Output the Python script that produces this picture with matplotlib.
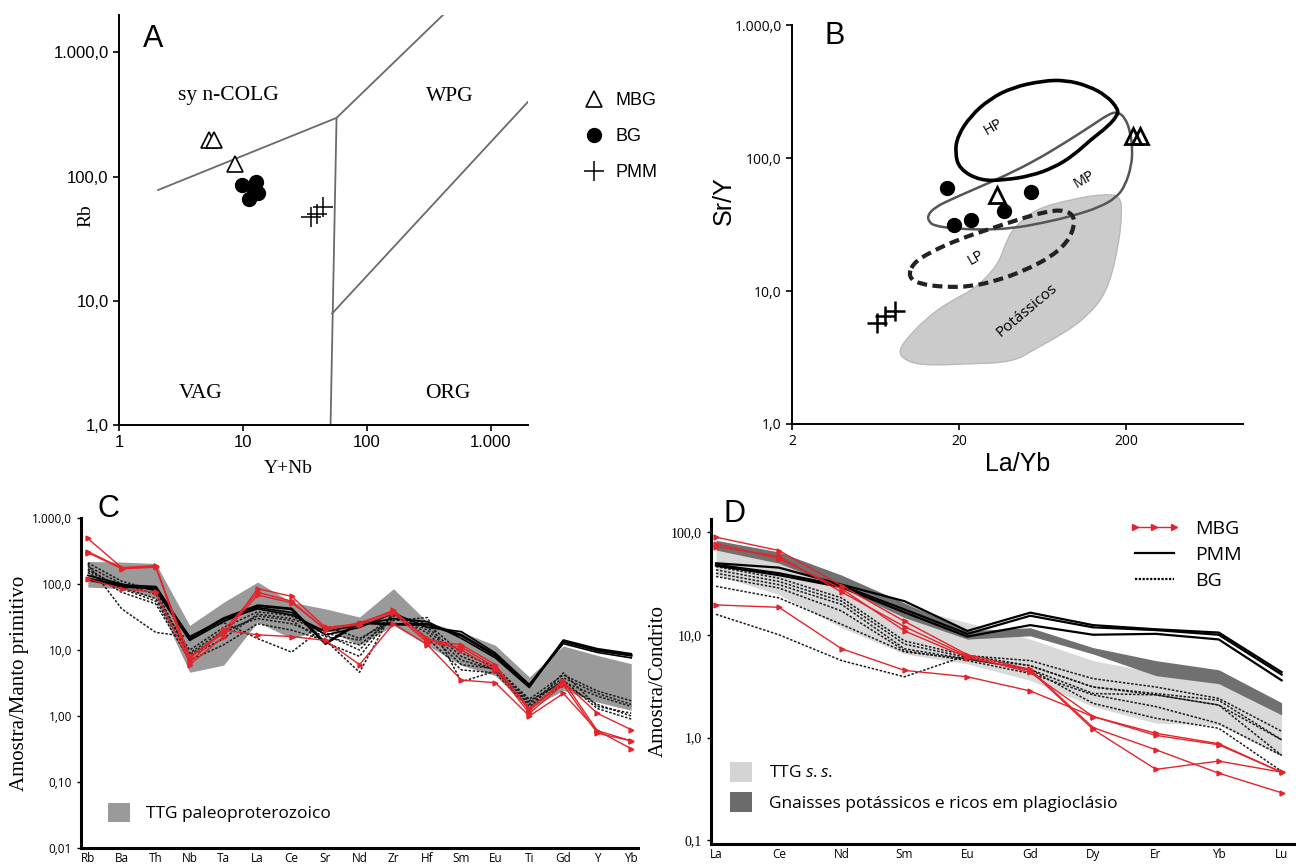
import numpy as np
import matplotlib
matplotlib.use('Agg')
import matplotlib.pyplot as plt
from matplotlib.lines import Line2D
from matplotlib.patches import Patch, PathPatch
from matplotlib.path import Path

plt.rcParams['mathtext.fontset'] = 'custom'
plt.rcParams['mathtext.it'] = 'Open Sans:italic'
plt.rcParams['mathtext.rm'] = 'Open Sans'

SANS = 'Liberation Sans'
SERIF = 'Liberation Serif'
CAL = 'Open Sans'
RED = '#e4232b'

# ---------------- A : Rb x (Y+Nb)
a_mbg_x = [5.3, 5.9, 8.6]
a_mbg_y = [196, 196, 127]
a_bg_x = [9.8, 12.7, 13.2, 11.3, 12.4]
a_bg_y = [86, 90, 74, 66, 79]
a_pmm_x = [35.4, 39.3, 44]
a_pmm_y = [47.4, 50, 57]

# limites dos campos (Pearce et al.)
a_colg_x = [2.07, 57, 412]
a_colg_y = [78, 297, 2000]
a_vert_x = [57, 51]
a_vert_y = [297, 1]
a_org_x = [52.5, 2000]
a_org_y = [7.9, 400]
a_fields = ['sy n-COLG', 'WPG', 'VAG', 'ORG']
a_field_x = [7.7, 466, 4.6, 447]
a_field_y = [450, 445, 1.8, 1.8]

# ---------------- B : Sr/Y x La/Yb
b_mbg_x = [33.9, 221, 243]
b_mbg_y = [52.7, 145.6, 147]
b_bg_x = [17.0, 18.6, 23.5, 37, 54]
b_bg_y = [60, 31.4, 34.2, 39.7, 56]
b_pmm_x = [6.46, 7.16, 8.3]
b_pmm_y = [5.75, 6.5, 7.1]

hp_x = [26.8, 20.1, 18.9, 19.6, 23.5, 30.5, 41.7, 63.2, 86.5, 118, 153, 179, 177, 153, 124, 96, 74, 54, 37.6]
hp_y = [67.6, 82.6, 110, 147, 208, 278, 340, 381, 386, 350, 294, 234, 208, 170, 139, 104, 85, 73.6, 68.4]
mp_x = [13.3, 12.9, 14.3, 18.1, 26.1, 37.6, 57, 86.5, 124, 157, 177, 197, 212, 218, 215, 197, 175, 138, 96, 63.2, 41.7, 27.5, 18.1, 14.3]
mp_y = [32.8, 36.8, 42.6, 49.2, 60.1, 73.6, 95.5, 131, 175, 214, 223, 202, 156, 117, 87.5, 62, 50.6, 42.6, 36.8, 32.5, 29.6, 28.9, 29.6, 31]
lp_x = [9.95, 11.6, 16.3, 23.5, 33.9, 48.8, 70.2, 88.7, 98.4, 96, 82, 63.2, 46.2, 30.5, 20.1, 13.3, 10.5]
lp_y = [12.7, 11.3, 10.7, 10.8, 12.0, 14.2, 17.9, 23.2, 31.0, 37.9, 40.9, 39.0, 34.8, 29.3, 24.6, 19.5, 16.0]
pot_x = [8.73, 9.68, 12.6, 17.2, 24.8, 33.9, 37.6, 41.7, 57, 96, 146, 184, 189, 179, 153, 118, 86.5, 57, 41.7, 22.3, 11.9, 9.2]
pot_y = [3.56, 4.36, 6.16, 8.22, 10.35, 15.5, 21.9, 29.3, 41.4, 49.2, 53.6, 52.1, 39.1, 20.7, 9.77, 6.53, 4.89, 3.66, 2.91, 2.83, 2.75, 3.08]

# ---------------- C : multielementos (manto primitivo)
c_elems = ['Rb', 'Ba', 'Th', 'Nb', 'Ta', 'La', 'Ce', 'Sr', 'Nd', 'Zr', 'Hf', 'Sm', 'Eu', 'Ti', 'Gd', 'Y', 'Yb']
c_ttg_hi = [220, 215, 205, 23.6, 53, 107, 53, 42, 31.6, 85, 26.6, 18.7, 11.8, 3.9, 11.5, 8.3, 6.2]
c_ttg_lo = [90, 85, 60, 4.6, 5.9, 26.6, 14.9, 21, 11.8, 23.6, 11.8, 5.86, 4.1, 1.29, 2.45, 1.63, 1.22]
c_pmm = [
    [120, 95, 90, 15, 30, 47, 42, 12.5, 26, 24.5, 24.5, 16.7, 8.3, 2.9, 13.5, 9.9, 8.3],
    [135, 100, 80, 14, 27, 44, 37, 17, 22, 36, 22, 19, 9.0, 3.0, 12.5, 9.2, 7.6],
    [115, 90, 85, 16, 29, 42, 34, 19, 24, 30, 27, 15, 7.6, 2.7, 14.2, 10.5, 8.8],
]
c_bg = [
    [210, 110, 80, 8, 15, 35, 30, 18, 14, 33, 25, 9, 5.5, 1.8, 4.2, 2.4, 1.7],
    [185, 100, 70, 9, 20, 30, 25, 16, 12, 30, 22, 8, 5.0, 1.6, 3.8, 2.2, 1.5],
    [160, 90, 60, 10, 22, 38, 33, 17, 10, 36, 20, 7, 5.0, 1.5, 3.5, 1.3, 0.9],
    [200, 42, 18.5, 15.8, 26, 14.9, 9.3, 23, 15, 28, 31, 3.3, 4.8, 1.4, 3.0, 1.5, 1.0],
    [150, 75, 50, 7, 12, 25, 20, 14, 4.6, 40, 15, 5, 4.5, 1.3, 4.5, 1.4, 1.1],
    [170, 85, 55, 8.5, 18, 33, 28, 13, 8, 35, 18, 6, 5.2, 1.7, 3.3, 2.0, 1.4],
]
c_mbg = [
    [490, 177, 190, 6, 16, 85, 65, 22, 25, 40, 14, 12, 6, 1.2, 3.3, 1.1, 0.62],
    [310, 175, 185, 7.5, 20, 75, 55, 20, 26, 38, 15, 10, 5, 1.1, 3.0, 0.55, 0.42],
    [300, 170, 180, 8, 18, 68, 52, 21, 24, 36, 13, 11, 5.5, 1.3, 3.4, 0.6, 0.42],
    [120, 85, 75, 6.5, 20, 17, 16, 14, 6, 25, 12, 3.5, 3.2, 1.0, 2.2, 0.6, 0.32],
]

# ---------------- D : ETR (condrito)
d_elems = ['La', 'Ce', 'Nd', 'Sm', 'Eu', 'Gd', 'Dy', 'Er', 'Yb', 'Lu']
d_ttg_hi = [66.6, 49.6, 30.7, 19, 13.1, 9.07, 5.6, 4.3, 3.34, 1.72]
d_ttg_lo = [38.3, 24.6, 11.7, 6.5, 5.2, 3.6, 2.0, 1.38, 1.32, 0.66]
d_gn_hi = [83, 64, 38, 20.4, 10.9, 11.7, 7.5, 5.6, 4.56, 2.18]
d_gn_lo = [66.6, 49.6, 28.5, 14.7, 9.07, 9.76, 6.5, 4.0, 3.34, 1.66]
d_pmm = [
    [49.6, 45, 30.7, 21.2, 10.9, 16.4, 12.4, 11.3, 10.5, 4.33],
    [48, 39.7, 30, 17.6, 10.2, 15.3, 11.8, 11.1, 10.0, 4.1],
    [47, 38, 29, 16.5, 9.6, 12.4, 10.0, 10.2, 9.0, 3.6],
]
d_bg = [
    [46, 35.5, 22.8, 8.7, 6.26, 5.6, 3.74, 3.1, 2.4, 1.15],
    [42.8, 33, 21.2, 8.1, 6.0, 5.0, 3.1, 2.68, 2.3, 0.95],
    [39.7, 30.7, 19.7, 7.3, 5.8, 4.6, 2.68, 2.6, 2.07, 0.67],
    [36.9, 28.5, 17.0, 7.0, 5.6, 4.2, 2.6, 2.0, 1.37, 0.67],
    [29.6, 22.8, 12.6, 6.8, 5.8, 4.6, 2.15, 1.54, 1.23, 0.47],
    [15.8, 10, 5.6, 3.9, 6.3, 5.0, 3.1, 2.6, 2.07, 0.95],
]
d_mbg = [
    [89, 66, 30, 13.5, 6.4, 4.6, 1.25, 0.76, 0.45, 0.29],
    [77, 55, 28, 10.9, 6.0, 4.5, 1.2, 0.49, 0.59, 0.46],
    [72, 58, 26, 12.0, 6.2, 4.3, 1.6, 1.1, 0.87, 0.46],
    [19.5, 18.5, 7.3, 4.5, 3.9, 2.84, 1.6, 1.05, 0.85, 0.46],
]


def closed_curve(xs, ys):
    # contorno suave (bezier quadratica) em espaco log
    lx, ly = np.log10(xs), np.log10(ys)
    mx = (lx + np.roll(lx, -1)) / 2
    my = (ly + np.roll(ly, -1)) / 2
    verts = [(mx[-1], my[-1])]
    codes = [Path.MOVETO]
    for i in range(len(lx)):
        verts += [(lx[i], ly[i]), (mx[i], my[i])]
        codes += [Path.CURVE3, Path.CURVE3]
    return Path(10 ** np.array(verts), codes)


def log_axis(ax, which, vals, labels, font, size):
    if which == 'x':
        ax.set_xticks(vals)
        ax.set_xticklabels(labels, fontfamily=font, fontsize=size)
        ax.xaxis.set_minor_locator(plt.NullLocator())
    else:
        ax.set_yticks(vals)
        ax.set_yticklabels(labels, fontfamily=font, fontsize=size)
        ax.yaxis.set_minor_locator(plt.NullLocator())


fig = plt.figure(figsize=(12.96, 8.67), dpi=100)

# ======================= A
axA = fig.add_axes([0.0918, 0.5098, 0.3156, 0.4729])
axA.set_xscale('log')
axA.set_yscale('log')
axA.set_xlim(1, 2000)
axA.set_ylim(1, 2000)
for s in ['top', 'right']:
    axA.spines[s].set_visible(False)
for s in ['left', 'bottom']:
    axA.spines[s].set_linewidth(1.4)
log_axis(axA, 'x', [1, 10, 100, 1000], ['1', '10', '100', '1.000'], SANS, 12)
log_axis(axA, 'y', [1, 10, 100, 1000], ['1,0', '10,0', '100,0', '1.000,0'], SANS, 12)
axA.tick_params(direction='out', length=4, width=1.2)

gray_line = '#6a6a6a'
axA.plot(a_colg_x, a_colg_y, color=gray_line, lw=1.3)
axA.plot(a_vert_x, a_vert_y, color=gray_line, lw=1.3)
axA.plot(a_org_x, a_org_y, color=gray_line, lw=1.3)
for t, x, y in zip(a_fields, a_field_x, a_field_y):
    axA.text(x, y, t, fontfamily=SERIF, fontsize=15.5, ha='center', va='center')

axA.plot(a_mbg_x, a_mbg_y, ls='none', marker='^', ms=12, mfc='white', mec='black', mew=1.2, label='MBG')
axA.plot(a_bg_x, a_bg_y, ls='none', marker='o', ms=10, color='black', label='BG')
axA.plot(a_pmm_x, a_pmm_y, ls='none', marker='+', ms=14, mew=1.1, color='black', label='PMM')
axA.legend(loc='upper left', bbox_to_anchor=(1.1, 0.83), frameon=False,
           prop={'family': SANS, 'size': 13}, labelspacing=1.05, handletextpad=0.2,
           borderaxespad=0)
axA.set_xlabel('Y+Nb', fontfamily=SERIF, fontsize=14)
axA.xaxis.set_label_coords(0.415, -0.085)
axA.set_ylabel('Rb', fontfamily=SERIF, fontsize=14)
axA.yaxis.set_label_coords(-0.06, 0.51)
axA.text(1.9, 1290, 'A', fontfamily=SANS, fontsize=22, ha='center', va='center')

# ======================= B
axB = fig.add_axes([0.6111, 0.511, 0.348, 0.460])
axB.set_xscale('log')
axB.set_yscale('log')
axB.set_xlim(2, 1000)
axB.set_ylim(1, 1000)
for s in ['top', 'right']:
    axB.spines[s].set_visible(False)
for s in ['left', 'bottom']:
    axB.spines[s].set_linewidth(1.4)
log_axis(axB, 'x', [2, 20, 200], ['2', '20', '200'], CAL, 10)
log_axis(axB, 'y', [1, 10, 100, 1000], ['1,0', '10,0', '100,0', '1.000,0'], CAL, 10)
axB.tick_params(direction='out', length=4, width=1.2)

axB.add_patch(PathPatch(closed_curve(pot_x, pot_y), facecolor='#cbcbcb', edgecolor='#b9b9b9', lw=1.0))
axB.add_patch(PathPatch(closed_curve(mp_x, mp_y), facecolor='none', edgecolor='#555555', lw=1.8))
axB.add_patch(PathPatch(closed_curve(hp_x, hp_y), facecolor='none', edgecolor='black', lw=2.6))
axB.add_patch(PathPatch(closed_curve(lp_x, lp_y), facecolor='none', edgecolor='#222222', lw=3.0,
                        linestyle=(0, (2.4, 1.3))))
axB.text(32.1, 170, 'HP', fontfamily=CAL, fontsize=10.5, rotation=30, ha='center', va='center')
axB.text(112, 69.5, 'MP', fontfamily=CAL, fontsize=10.5, rotation=30, ha='center', va='center')
axB.text(25.4, 17.9, 'LP', fontfamily=CAL, fontsize=10.5, rotation=30, ha='center', va='center')
axB.text(51, 7.1, 'Potássicos', fontfamily=CAL, fontsize=11, rotation=40, ha='center', va='center')

axB.plot(b_bg_x, b_bg_y, ls='none', marker='o', ms=10, color='black')
axB.plot(b_mbg_x, b_mbg_y, ls='none', marker='^', ms=12, mfc='none', mec='black', mew=2.0)
axB.plot(b_pmm_x, b_pmm_y, ls='none', marker='+', ms=14, mew=1.8, color='black')
axB.set_xlabel('La/Yb', fontfamily=SANS, fontsize=18, labelpad=2)
axB.set_ylabel('Sr/Y', fontfamily=SANS, fontsize=18)
axB.yaxis.set_label_coords(-0.125, 0.56)
axB.text(3.6, 830, 'B', fontfamily=SANS, fontsize=22, ha='center', va='center')

# ======================= C
axC = fig.add_axes([0.0625, 0.0219, 0.4298, 0.3806])
axC.set_yscale('log')
axC.set_ylim(0.01, 1000)
axC.set_xlim(-0.2, 16.2)
xc = np.arange(len(c_elems))
for s in ['top', 'right']:
    axC.spines[s].set_visible(False)
for s in ['left', 'bottom']:
    axC.spines[s].set_linewidth(2.2)
axC.set_xticks(xc)
axC.set_xticklabels(c_elems, fontfamily=CAL, fontsize=8.5)
log_axis(axC, 'y', [0.01, 0.1, 1, 10, 100, 1000], ['0,01', '0,10', '1,00', '10,0', '100,0', '1.000,0'], CAL, 8.5)
axC.tick_params(axis='x', length=0, pad=3)
axC.tick_params(axis='y', direction='out', length=3, width=1)

axC.fill_between(xc, c_ttg_lo, c_ttg_hi, color='#9a9a9a', lw=0, zorder=1)
for row in c_bg:
    axC.plot(xc, row, color='#1a1a1a', lw=1.1, ls=(0, (1.6, 1.1)), zorder=2)
for i, row in enumerate(c_pmm):
    axC.plot(xc, row, color='black', lw=2.0 if i == 0 else 1.2, zorder=3)
for row in c_mbg:
    axC.plot(xc, row, color=RED, lw=1.0, marker='>', ms=3.5, zorder=4)
axC.legend(handles=[Patch(facecolor='#9a9a9a', edgecolor='none', label='TTG paleoproterozoico')],
           loc='lower left', bbox_to_anchor=(0.02, 0.03), frameon=False,
           prop={'family': CAL, 'size': 12.5}, handlelength=1.3, handleheight=1.3, handletextpad=0.9)
axC.set_ylabel('Amostra/Manto primitivo', fontfamily=SERIF, fontsize=15, labelpad=2)
axC.text(0.6, 1350, 'C', fontfamily=SANS, fontsize=22, ha='center', va='center', clip_on=False)

# ======================= D
axD = fig.add_axes([0.5486, 0.0265, 0.45, 0.375])
axD.set_yscale('log')
axD.set_ylim(0.092, 134)
axD.set_xlim(-0.08, 9.2)
xd = np.arange(len(d_elems))
for s in ['top', 'right']:
    axD.spines[s].set_visible(False)
for s in ['left', 'bottom']:
    axD.spines[s].set_linewidth(2.2)
axD.set_xticks(xd)
axD.set_xticklabels(d_elems, fontfamily=CAL, fontsize=8.5)
log_axis(axD, 'y', [0.1, 1, 10, 100], ['0,1', '1,0', '10,0', '100,0'], SERIF, 10)
axD.tick_params(axis='x', length=0, pad=3)
axD.tick_params(axis='y', direction='out', length=3, width=1)

axD.fill_between(xd, d_ttg_lo, d_ttg_hi, color='#d9d9d9', lw=0, zorder=1)
axD.fill_between(xd, d_gn_lo, d_gn_hi, color='#707070', lw=0, zorder=1)
for row in d_bg:
    axD.plot(xd, row, color='#1a1a1a', lw=1.1, ls=(0, (1.6, 1.1)), zorder=2)
for row in d_pmm:
    axD.plot(xd, row, color='black', lw=1.6, zorder=3)
for row in d_mbg:
    axD.plot(xd, row, color=RED, lw=1.0, marker='>', ms=3.5, zorder=4)

leg1 = axD.legend(handles=[Line2D([], [], color=RED, lw=1.0, marker='>', ms=4, markevery=[1]),
                           Line2D([], [], color='black', lw=1.6),
                           Line2D([], [], color='black', lw=1.6, ls=(0, (1.0, 0.7)))],
                  labels=['MBG', 'PMM', 'BG'], loc='upper right', bbox_to_anchor=(0.94, 1.05),
                  frameon=False, prop={'family': CAL, 'size': 14}, handlelength=2.6,
                  labelspacing=0.4, handletextpad=0.8, numpoints=3)
axD.add_artist(leg1)
axD.legend(handles=[Patch(facecolor='#d4d4d4', edgecolor='none'),
                    Patch(facecolor='#6b6b6b', edgecolor='none')],
           labels=['TTG $\\it{s.s.}$', 'Gnaisses potássicos e ricos em plagioclásio'],
           loc='lower left', bbox_to_anchor=(0.005, 0.05), frameon=False,
           prop={'family': CAL, 'size': 12.5}, handlelength=1.3, handleheight=1.4,
           handletextpad=1.0, labelspacing=0.6)
axD.set_ylabel('Amostra/Condrito', fontfamily=SERIF, fontsize=15, labelpad=2)
axD.text(0.3, 150, 'D', fontfamily=SANS, fontsize=22, ha='center', va='center', clip_on=False)

fig.savefig('out.png', dpi=100)
